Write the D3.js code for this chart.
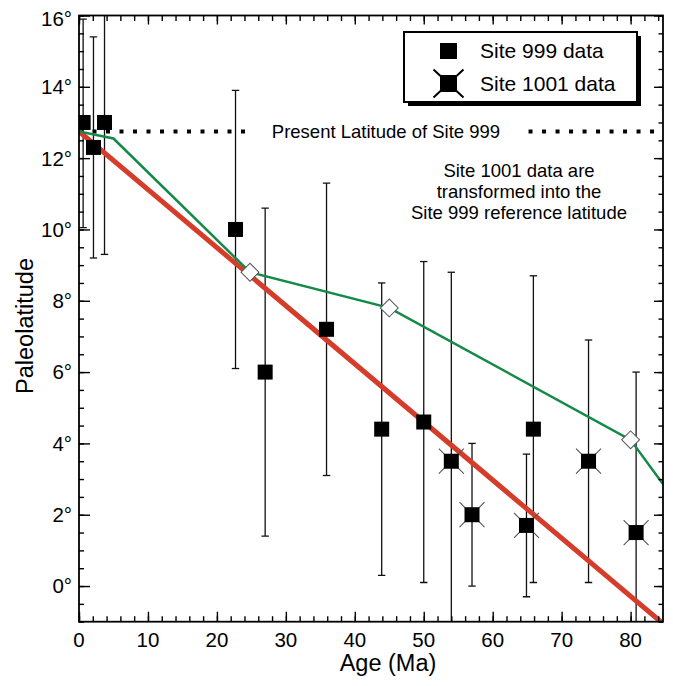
<!DOCTYPE html>
<html>
<head>
<meta charset="utf-8">
<script src="https://cdn.jsdelivr.net/npm/d3@7.9.0/dist/d3.min.js"></script>
<style>
  body { margin: 0; background: #fff; }
  svg { font-family: "Liberation Sans", Arial, Helvetica, sans-serif; }
</style>
</head>
<body>
<svg width="673" height="686"></svg>
<script>
// Site 999 paleolatitudes (age in Ma, latitude in degrees, error bar limits)
const site999Age = [0.6, 2.1, 3.7, 22.7, 27.0, 35.9, 43.9, 50.0, 65.9];
const site999Lat = [13.0, 12.3, 13.0, 10.0, 6.0, 7.2, 4.4, 4.6, 4.4];
const site999Lo  = [10.05, 9.2, 9.3, 6.1, 1.4, 3.1, 0.3, 0.1, 0.1];
const site999Hi  = [15.9, 15.4, 16.5, 13.9, 10.6, 11.3, 8.5, 9.1, 8.7];

// Site 1001 data, transformed to the Site 999 reference latitude
const site1001Age = [54.0, 57.0, 64.9, 73.9, 80.8];
const site1001Lat = [3.5, 2.0, 1.7, 3.5, 1.5];
const site1001Lo  = [-1.5, 0.0, -0.3, 0.1, -1.5];
const site1001Hi  = [8.8, 4.0, 3.7, 6.9, 6.0];

// red fitted line
const redAge = [0, 84.5];
const redLat = [12.75, -1.02];

// green reference path with open diamonds
const greenAge = [0, 5.0, 24.8, 45.0, 80.0, 84.8];
const greenLat = [12.75, 12.55, 8.8, 7.8, 4.1, 2.83];
const diamondAge = [24.8, 45.0, 80.0];
const diamondLat = [8.8, 7.8, 4.1];

// present latitude of site 999
const presentLat = 12.75;
const presentSegments = [[0, 24.3], [65.2, 84.8]];

const ageTicks = [0, 10, 20, 30, 40, 50, 60, 70, 80];
const ageMinor = d3.range(0, 85, 2);
const latTicks = [0, 2, 4, 6, 8, 10, 12, 14, 16];
const latMinor = d3.range(-1, 16.01, 0.5);

const svg = d3.select('svg');
const pLeft = 79, pTop = 15.5, pRight = 663, pBottom = 621.7;

const x = d3.scaleLinear().domain([0, 84.7]).range([pLeft, pRight]);
const y = d3.scaleLinear().domain([-1, 16]).range([pBottom, pTop]);

svg.append('defs').append('clipPath').attr('id', 'plot')
  .append('rect').attr('x', pLeft).attr('y', pTop)
  .attr('width', pRight - pLeft).attr('height', pBottom - pTop);

const plot = svg.append('g').attr('clip-path', 'url(#plot)');

// ticks, all pointing inward
function tickAxis(axis, values, size, transform) {
  const g = svg.append('g').attr('transform', transform)
    .call(axis.tickValues(values).tickSize(size).tickFormat(''));
  g.select('.domain').remove();
  g.selectAll('line').attr('stroke', '#000').attr('stroke-width', 1.4);
}
tickAxis(d3.axisBottom(x), ageMinor, -5.5, `translate(0,${pBottom})`);
tickAxis(d3.axisBottom(x), ageTicks, -10, `translate(0,${pBottom})`);
tickAxis(d3.axisTop(x), ageMinor, -5.5, `translate(0,${pTop})`);
tickAxis(d3.axisTop(x), ageTicks, -9, `translate(0,${pTop})`);
tickAxis(d3.axisLeft(y), latMinor, -5, `translate(${pLeft},0)`);
tickAxis(d3.axisLeft(y), latTicks, -11, `translate(${pLeft},0)`);
tickAxis(d3.axisRight(y), latMinor, -4.5, `translate(${pRight},0)`);
tickAxis(d3.axisRight(y), latTicks, -9, `translate(${pRight},0)`);

// tick labels
svg.append('g').selectAll('text').data(ageTicks).join('text')
  .attr('x', d => x(d)).attr('y', 647)
  .attr('text-anchor', 'middle').attr('font-size', 20.5)
  .text(d => d);
svg.append('g').selectAll('text').data(latTicks).join('text')
  .attr('x', 72).attr('y', d => Math.max(y(d), 19)).attr('dy', '0.36em')
  .attr('text-anchor', 'end').attr('font-size', 20.5)
  .text(d => d + '°');

svg.append('text').attr('x', 388).attr('y', 671)
  .attr('text-anchor', 'middle').attr('font-size', 23.5).text('Age (Ma)');
svg.append('text').attr('transform', 'translate(33,326) rotate(-90)')
  .attr('text-anchor', 'middle').attr('font-size', 23.5).text('Paleolatitude');

// error bars
const bars = site999Age.map((a, i) => ({ age: a, lo: site999Lo[i], hi: site999Hi[i] }))
  .concat(site1001Age.map((a, i) => ({ age: a, lo: site1001Lo[i], hi: site1001Hi[i] })));
bars.forEach(b => {
  const g = plot.append('g').attr('stroke', '#111').attr('stroke-width', 1.3);
  g.append('line').attr('x1', x(b.age)).attr('x2', x(b.age)).attr('y1', y(b.lo)).attr('y2', y(b.hi));
  [b.lo, b.hi].forEach(v => {
    g.append('line').attr('x1', x(b.age) - 3.7).attr('x2', x(b.age) + 3.7)
      .attr('y1', y(v)).attr('y2', y(v));
  });
});

// present latitude dotted line
presentSegments.forEach(([a0, a1]) => {
  plot.append('line').attr('x1', x(a0)).attr('x2', x(a1))
    .attr('y1', y(presentLat)).attr('y2', y(presentLat))
    .attr('stroke', '#000').attr('stroke-width', 4).attr('stroke-dasharray', '4,9.5');
});
svg.append('text').attr('x', 386).attr('y', 138).attr('text-anchor', 'middle')
  .attr('font-size', 18.5).text('Present Latitude of Site 999');

// annotation
['Site 1001 data are', 'transformed into the', 'Site 999 reference latitude'].forEach((t, i) => {
  svg.append('text').attr('x', 519).attr('y', 177 + i * 21).attr('text-anchor', 'middle')
    .attr('font-size', 18.5).text(t);
});

const line = d3.line().x(d => x(d[0])).y(d => y(d[1]));
plot.append('path').attr('d', line(d3.zip(redAge, redLat)))
  .attr('fill', 'none').attr('stroke', '#d63c2a').attr('stroke-width', 5);
plot.append('path').attr('d', line(d3.zip(greenAge, greenLat)))
  .attr('fill', 'none').attr('stroke', '#138a47').attr('stroke-width', 2.5);

// diamonds
const diamond = d3.symbol().type(d3.symbolSquare).size(160);
plot.selectAll('.dia').data(d3.zip(diamondAge, diamondLat)).join('path')
  .attr('d', diamond)
  .attr('transform', d => `translate(${x(d[0])},${y(d[1])}) rotate(45)`)
  .attr('fill', '#fff').attr('stroke', '#555').attr('stroke-width', 1);

// site 1001 markers: square with diagonal whiskers
const sq = 15;
site1001Age.forEach((a, i) => {
  const cx = x(a), cy = y(site1001Lat[i]);
  const g = plot.append('g');
  [[1, 1], [1, -1], [-1, 1], [-1, -1]].forEach(([sx, sy]) => {
    g.append('line').attr('x1', cx).attr('y1', cy)
      .attr('x2', cx + sx * 12.5).attr('y2', cy + sy * 12.5)
      .attr('stroke', '#555').attr('stroke-width', 1.1);
  });
  g.append('rect').attr('x', cx - sq / 2).attr('y', cy - sq / 2)
    .attr('width', sq).attr('height', sq).attr('fill', '#000');
});

// site 999 squares
plot.selectAll('.s999').data(d3.zip(site999Age, site999Lat)).join('rect')
  .attr('x', d => x(d[0]) - sq / 2).attr('y', d => y(d[1]) - sq / 2)
  .attr('width', sq).attr('height', sq).attr('fill', '#000');

// frame
svg.append('rect').attr('x', pLeft).attr('y', pTop)
  .attr('width', pRight - pLeft).attr('height', pBottom - pTop)
  .attr('fill', 'none').attr('stroke', '#000').attr('stroke-width', 1.8);

// legend
const lg = svg.append('g');
lg.append('rect').attr('x', 408).attr('y', 36).attr('width', 233).attr('height', 70).attr('fill', '#000');
lg.append('rect').attr('x', 404).attr('y', 32).attr('width', 233).attr('height', 70)
  .attr('fill', '#fff').attr('stroke', '#000').attr('stroke-width', 2);
lg.append('rect').attr('x', 440).attr('y', 43).attr('width', 17).attr('height', 16).attr('fill', '#000');
[[1, 1], [1, -1], [-1, 1], [-1, -1]].forEach(([sx, sy]) => {
  lg.append('line').attr('x1', 448.5).attr('y1', 83.5)
    .attr('x2', 448.5 + sx * 15).attr('y2', 83.5 + sy * 14)
    .attr('stroke', '#000').attr('stroke-width', 2);
});
lg.append('rect').attr('x', 440).attr('y', 75).attr('width', 17).attr('height', 17).attr('fill', '#000');
lg.append('text').attr('x', 480).attr('y', 58).attr('font-size', 21).text('Site 999 data');
lg.append('text').attr('x', 480).attr('y', 91).attr('font-size', 21).text('Site 1001 data');
</script>
</body>
</html>
